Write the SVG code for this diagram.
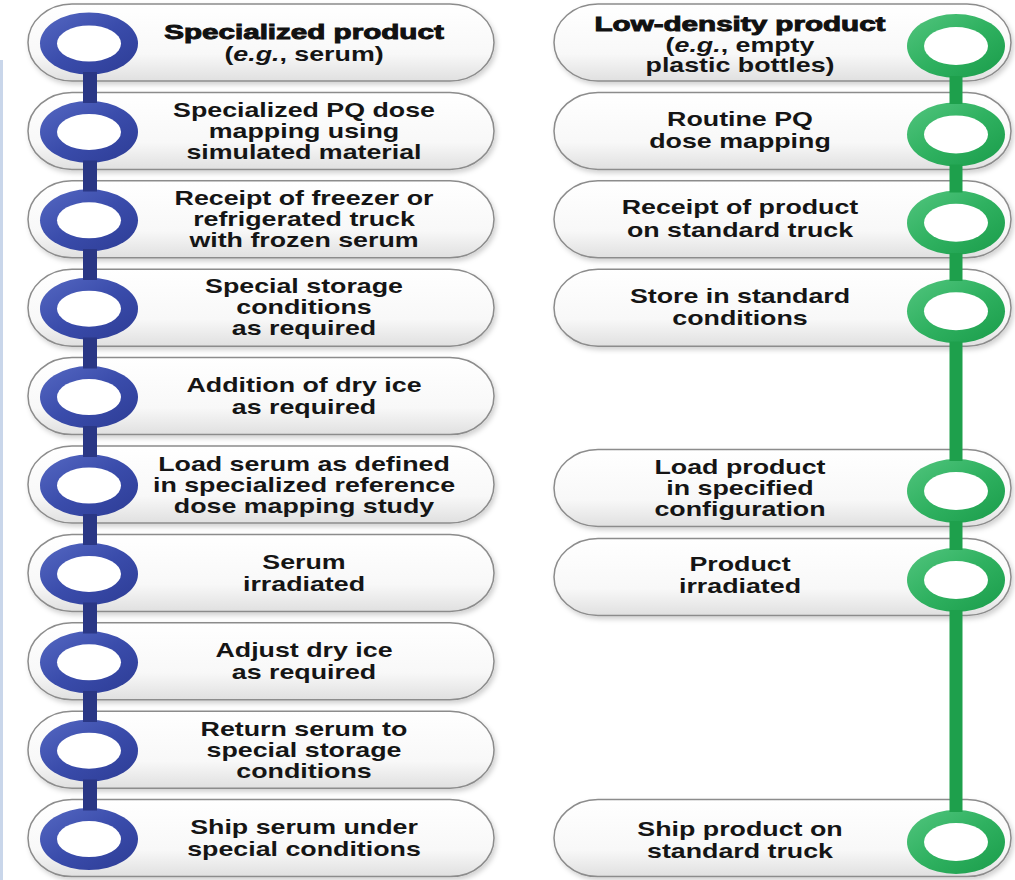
<svg xmlns="http://www.w3.org/2000/svg" width="1015" height="880" viewBox="0 0 1015 880">
<defs>
<linearGradient id="pillG" x1="0" y1="0" x2="0" y2="1">
<stop offset="0" stop-color="#ffffff"/><stop offset="0.65" stop-color="#f8f8f8"/><stop offset="1" stop-color="#e0e0e0"/>
</linearGradient>
<linearGradient id="blueG" x1="0" y1="0" x2="1" y2="1">
<stop offset="0" stop-color="#5568c2"/><stop offset="0.5" stop-color="#3a4cab"/><stop offset="1" stop-color="#2d3c95"/>
</linearGradient>
<linearGradient id="greenG" x1="0" y1="0" x2="1" y2="1">
<stop offset="0" stop-color="#52c57e"/><stop offset="0.5" stop-color="#2fb160"/><stop offset="1" stop-color="#1a9c4a"/>
</linearGradient>
<filter id="sh" x="-5%" y="-20%" width="112%" height="150%">
<feDropShadow dx="2" dy="3" stdDeviation="2.5" flood-color="#000" flood-opacity="0.18"/>
</filter>
<style>
.pill{fill:url(#pillG);stroke:#8c8c8c;stroke-width:1.5;filter:url(#sh)}
.ringB{fill:url(#blueG)}
.ringG{fill:url(#greenG)}
.hole{fill:#ffffff}
.t{font-family:"Liberation Sans",Arial,sans-serif;font-weight:bold;font-size:20px;fill:#151515;text-anchor:middle}
.h{font-family:"Liberation Sans",Arial,sans-serif;font-weight:bold;font-size:20px;fill:#111;stroke:#111;stroke-width:0.9;text-anchor:middle}
.it{font-style:italic}
.stemB{stroke:#2a3785;stroke-width:14;fill:none}
.stemG{stroke:#1ea04c;stroke-width:13;fill:none}
</style>
</defs>
<rect width="1015" height="880" fill="#ffffff"/>
<rect x="0" y="60" width="3" height="820" fill="#c9d6ea"/>

<!-- Left column -->
<g id="L1"><rect class="pill" x="28" y="4" width="466" height="77" rx="44" ry="38.5"/>
<ellipse class="ringB" cx="89" cy="43.5" rx="49" ry="31"/><ellipse class="hole" cx="89" cy="43.5" rx="32" ry="18"/>
<text class="h" transform="matrix(1.48 0 0 1 304 0)" x="0" y="39">Specialized product</text>
<text class="t" transform="matrix(1.34 0 0 1 304 0)" x="0" y="61.5">(<tspan class="it">e.g.</tspan>, serum)</text></g>

<g id="L2"><rect class="pill" x="28" y="92.4" width="466" height="77" rx="44" ry="38.5"/>
<ellipse class="ringB" cx="89" cy="131.9" rx="49" ry="31"/><ellipse class="hole" cx="89" cy="131.9" rx="32" ry="18"/>
<text class="t" transform="matrix(1.34 0 0 1 304 0)"><tspan x="0" y="117">Specialized PQ dose</tspan><tspan x="0" y="138">mapping using</tspan><tspan x="0" y="159">simulated material</tspan></text></g>

<g id="L3"><rect class="pill" x="28" y="180.8" width="466" height="77" rx="44" ry="38.5"/>
<ellipse class="ringB" cx="89" cy="220.3" rx="49" ry="31"/><ellipse class="hole" cx="89" cy="220.3" rx="32" ry="18"/>
<text class="t" transform="matrix(1.34 0 0 1 304 0)"><tspan x="0" y="205.5">Receipt of freezer or</tspan><tspan x="0" y="226.5">refrigerated truck</tspan><tspan x="0" y="247.5">with frozen serum</tspan></text></g>

<g id="L4"><rect class="pill" x="28" y="269.2" width="466" height="77" rx="44" ry="38.5"/>
<ellipse class="ringB" cx="89" cy="308.7" rx="49" ry="31"/><ellipse class="hole" cx="89" cy="308.7" rx="32" ry="18"/>
<text class="t" transform="matrix(1.34 0 0 1 304 0)"><tspan x="0" y="293.5">Special storage</tspan><tspan x="0" y="314.5">conditions</tspan><tspan x="0" y="335.5">as required</tspan></text></g>

<g id="L5"><rect class="pill" x="28" y="357.6" width="466" height="77" rx="44" ry="38.5"/>
<ellipse class="ringB" cx="89" cy="397.1" rx="49" ry="31"/><ellipse class="hole" cx="89" cy="397.1" rx="32" ry="18"/>
<text class="t" transform="matrix(1.34 0 0 1 304 0)"><tspan x="0" y="392">Addition of dry ice</tspan><tspan x="0" y="414.5">as required</tspan></text></g>

<g id="L6"><rect class="pill" x="28" y="446" width="466" height="77" rx="44" ry="38.5"/>
<ellipse class="ringB" cx="89" cy="485.5" rx="49" ry="31"/><ellipse class="hole" cx="89" cy="485.5" rx="32" ry="18"/>
<text class="t" transform="matrix(1.34 0 0 1 304 0)"><tspan x="0" y="471">Load serum as defined</tspan><tspan x="0" y="492">in specialized reference</tspan><tspan x="0" y="513">dose mapping study</tspan></text></g>

<g id="L7"><rect class="pill" x="28" y="534.4" width="466" height="77" rx="44" ry="38.5"/>
<ellipse class="ringB" cx="89" cy="573.9" rx="49" ry="31"/><ellipse class="hole" cx="89" cy="573.9" rx="32" ry="18"/>
<text class="t" transform="matrix(1.34 0 0 1 304 0)"><tspan x="0" y="569">Serum</tspan><tspan x="0" y="591.5">irradiated</tspan></text></g>

<g id="L8"><rect class="pill" x="28" y="622.8" width="466" height="77" rx="44" ry="38.5"/>
<ellipse class="ringB" cx="89" cy="662.3" rx="49" ry="31"/><ellipse class="hole" cx="89" cy="662.3" rx="32" ry="18"/>
<text class="t" transform="matrix(1.34 0 0 1 304 0)"><tspan x="0" y="657">Adjust dry ice</tspan><tspan x="0" y="679.5">as required</tspan></text></g>

<g id="L9"><rect class="pill" x="28" y="711.2" width="466" height="77" rx="44" ry="38.5"/>
<ellipse class="ringB" cx="89" cy="750.7" rx="49" ry="31"/><ellipse class="hole" cx="89" cy="750.7" rx="32" ry="18"/>
<text class="t" transform="matrix(1.34 0 0 1 304 0)"><tspan x="0" y="736">Return serum to</tspan><tspan x="0" y="757">special storage</tspan><tspan x="0" y="778">conditions</tspan></text></g>

<g id="L10"><rect class="pill" x="28" y="799.6" width="466" height="77" rx="44" ry="38.5"/>
<ellipse class="ringB" cx="89" cy="839.1" rx="49" ry="31"/><ellipse class="hole" cx="89" cy="839.1" rx="32" ry="18"/>
<text class="t" transform="matrix(1.34 0 0 1 304 0)"><tspan x="0" y="834">Ship serum under</tspan><tspan x="0" y="856.5">special conditions</tspan></text></g>

<!-- Right column -->
<g id="R1"><rect class="pill" x="554" y="4" width="457" height="77" rx="44" ry="38.5"/>
<ellipse class="ringG" cx="956" cy="46" rx="49" ry="32"/><ellipse class="hole" cx="956" cy="46" rx="32" ry="19"/>
<text class="h" transform="matrix(1.48 0 0 1 740 0)" x="0" y="31">Low-density product</text>
<text class="t" transform="matrix(1.34 0 0 1 740 0)" x="0" y="52">(<tspan class="it">e.g.</tspan>, empty</text>
<text class="t" transform="matrix(1.34 0 0 1 740 0)" x="0" y="72.5">plastic bottles)</text></g>

<g id="R2"><rect class="pill" x="554" y="92.4" width="457" height="77" rx="44" ry="38.5"/>
<ellipse class="ringG" cx="956" cy="134.4" rx="49" ry="32"/><ellipse class="hole" cx="956" cy="134.4" rx="32" ry="19"/>
<text class="t" transform="matrix(1.34 0 0 1 740 0)"><tspan x="0" y="126">Routine PQ</tspan><tspan x="0" y="148.5">dose mapping</tspan></text></g>

<g id="R3"><rect class="pill" x="554" y="180.8" width="457" height="77" rx="44" ry="38.5"/>
<ellipse class="ringG" cx="956" cy="222.8" rx="49" ry="32"/><ellipse class="hole" cx="956" cy="222.8" rx="32" ry="19"/>
<text class="t" transform="matrix(1.34 0 0 1 740 0)"><tspan x="0" y="214.5">Receipt of product</tspan><tspan x="0" y="237">on standard truck</tspan></text></g>

<g id="R4"><rect class="pill" x="554" y="269.2" width="457" height="77" rx="44" ry="38.5"/>
<ellipse class="ringG" cx="956" cy="311.2" rx="49" ry="32"/><ellipse class="hole" cx="956" cy="311.2" rx="32" ry="19"/>
<text class="t" transform="matrix(1.34 0 0 1 740 0)"><tspan x="0" y="303">Store in standard</tspan><tspan x="0" y="325.5">conditions</tspan></text></g>

<g id="R6"><rect class="pill" x="554" y="449.5" width="457" height="77" rx="44" ry="38.5"/>
<ellipse class="ringG" cx="956" cy="491" rx="49" ry="32"/><ellipse class="hole" cx="956" cy="491" rx="32" ry="19"/>
<text class="t" transform="matrix(1.34 0 0 1 740 0)"><tspan x="0" y="474">Load product</tspan><tspan x="0" y="495">in specified</tspan><tspan x="0" y="516">configuration</tspan></text></g>

<g id="R7"><rect class="pill" x="554" y="538.5" width="457" height="77" rx="44" ry="38.5"/>
<ellipse class="ringG" cx="956" cy="580" rx="49" ry="32"/><ellipse class="hole" cx="956" cy="580" rx="32" ry="19"/>
<text class="t" transform="matrix(1.34 0 0 1 740 0)"><tspan x="0" y="571">Product</tspan><tspan x="0" y="593.5">irradiated</tspan></text></g>

<g id="R10"><rect class="pill" x="554" y="799.6" width="457" height="77" rx="44" ry="38.5"/>
<ellipse class="ringG" cx="956" cy="842" rx="49" ry="32"/><ellipse class="hole" cx="956" cy="842" rx="32" ry="19"/>
<text class="t" transform="matrix(1.34 0 0 1 740 0)"><tspan x="0" y="836">Ship product on</tspan><tspan x="0" y="858.5">standard truck</tspan></text></g>

<g id="connectors">
<line class="stemB" x1="90" y1="72" x2="90" y2="103"/>
<line class="stemB" x1="90" y1="160.5" x2="90" y2="191.5"/>
<line class="stemB" x1="90" y1="249" x2="90" y2="280"/>
<line class="stemB" x1="90" y1="337.5" x2="90" y2="368.5"/>
<line class="stemB" x1="90" y1="426" x2="90" y2="457"/>
<line class="stemB" x1="90" y1="514" x2="90" y2="545"/>
<line class="stemB" x1="90" y1="602.5" x2="90" y2="633.5"/>
<line class="stemB" x1="90" y1="691" x2="90" y2="722"/>
<line class="stemB" x1="90" y1="779.5" x2="90" y2="810.5"/>
<line class="stemG" x1="956" y1="76" x2="956" y2="104"/>
<line class="stemG" x1="956" y1="164.5" x2="956" y2="192.5"/>
<line class="stemG" x1="956" y1="253" x2="956" y2="281"/>
<line class="stemG" x1="956" y1="341.5" x2="956" y2="461"/>
<line class="stemG" x1="956" y1="521" x2="956" y2="550"/>
<line class="stemG" x1="956" y1="610" x2="956" y2="812"/>
</g>
</svg>
